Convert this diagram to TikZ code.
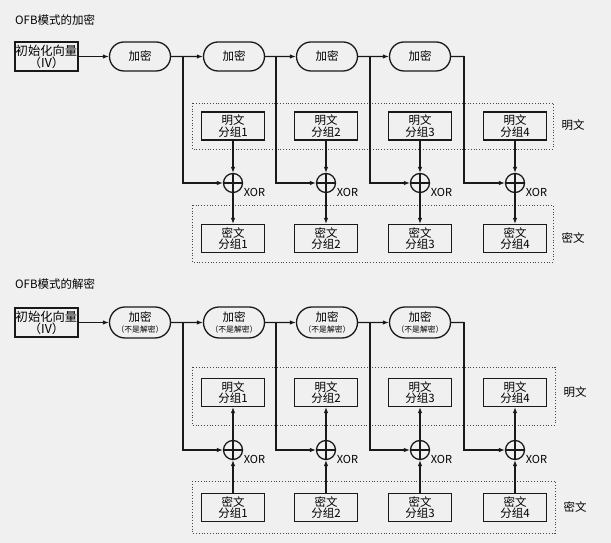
\documentclass[tikz,border=0pt]{standalone}
\usepackage{fontspec}
\newfontfamily\cjk{Noto Sans CJK SC}
\usetikzlibrary{arrows.meta,shapes.misc,positioning,calc}
\definecolor{paper}{RGB}{240,240,240}
\definecolor{ink}{RGB}{25,25,25}
\tikzset{
  basebox/.style={rectangle,draw=ink,line width=1.3pt,align=center,inner sep=0pt,font=\cjk\fontsize{11.5}{11.5}\selectfont},
  ivnode/.style={basebox,minimum width=63pt,minimum height=29pt,font=\cjk\fontsize{12.3}{12}\selectfont},
  encnode/.style={basebox,rounded rectangle,minimum width=61pt,minimum height=29pt},
  blknode/.style={basebox,minimum width=63pt,minimum height=28pt},
  xornode/.style={circle,draw=ink,line width=1.3pt,minimum size=19pt,inner sep=0pt,
    path picture={\draw[line width=1.1pt] (path picture bounding box.north) -- (path picture bounding box.south)
      (path picture bounding box.west) -- (path picture bounding box.east);}},
  xorlab/.style={font=\cjk\fontsize{11}{11}\selectfont,inner sep=0pt,xshift=0.5pt,yshift=-9.5pt},
  sidelab/.style={font=\cjk\fontsize{11.5}{12}\selectfont},
  titlelab/.style={font=\cjk\fontsize{11.5}{12}\selectfont,anchor=west,inner sep=0pt},
  grp/.style={draw=ink!80,dotted,line width=0.8pt},
  arr/.style={-{Latex[length=6pt,width=4.5pt]},line width=1.1pt,color=ink},
  ln/.style={line width=1.1pt,color=ink}
}
\begin{document}
\begin{tikzpicture}[x=1pt,y=1pt]
  \fill[paper] (0,0) rectangle (611,543);
  \useasboundingbox (0,0) rectangle (611,543);
  % OFB encryption
  \node[titlelab] (t1) at (15,523) {OFB模式的加密};
  \node[ivnode] (iv1) at (46.5,486.5) {初始化向量\\（IV）};
  \draw[grp] (192,440) rectangle (553,394);
  \draw[grp] (192,338) rectangle (553,281);
  \foreach \i/\ex/\bx/\px in {1/140/183/233, 2/234/276/326, 3/327/370/420, 4/420/464/515} {
    \node[encnode] (e\i) at (\ex,486.5) {加密};
    \coordinate (b\i) at (\bx,486.5);
    \node[blknode] (p\i) at (\px,417) {明文\\分组\i};
    \node[xornode,label={[xorlab]0:XOR}] (x\i) at (\px,360) {};
    \node[blknode] (c\i) at (\px,304.5) {密文\\分组\i};
    \draw[arr] (b\i) |- (x\i);
    \draw[arr] (p\i) -- (x\i);
    \draw[arr] (x\i) -- (c\i);
  }
  \draw[arr] (iv1) -- (e1);
  \draw[arr] (e1) -- (e2);
  \draw[arr] (e2) -- (e3);
  \draw[arr] (e3) -- (e4);
  \draw[ln] (e4) -- (b4);
  \node[sidelab] (lp1) at (573,418) {明文};
  \node[sidelab] (lc1) at (573,305) {密文};
  % OFB decryption
  \node[titlelab] (t2) at (15,259) {OFB模式的解密};
  \node[ivnode] (iv2) at (46.5,220.5) {初始化向量\\（IV）};
  \draw[grp] (192,176) rectangle (555,118);
  \draw[grp] (192,62) rectangle (555,10);
  \foreach \i/\ex/\bx/\px in {1/140/183/233, 2/234/276/326, 3/327/370/420, 4/420/464/515} {
    \node[encnode,minimum height=31pt] (ed\i) at (\ex,220.5) {加密\\{\fontsize{7.8}{9}\selectfont （不是解密）}};
    \coordinate (bd\i) at (\bx,220.5);
    \node[blknode] (pd\i) at (\px,150.5) {明文\\分组\i};
    \node[xornode,label={[xorlab]0:XOR}] (xd\i) at (\px,93) {};
    \node[blknode] (cd\i) at (\px,35.5) {密文\\分组\i};
    \draw[arr] (bd\i) |- (xd\i);
    \draw[arr] (cd\i) -- (xd\i);
    \draw[arr] (xd\i) -- (pd\i);
  }
  \draw[arr] (iv2) -- (ed1);
  \draw[arr] (ed1) -- (ed2);
  \draw[arr] (ed2) -- (ed3);
  \draw[arr] (ed3) -- (ed4);
  \draw[ln] (ed4) -- (bd4);
  \node[sidelab] (lp2) at (575,151) {明文};
  \node[sidelab] (lc2) at (575,36) {密文};
\end{tikzpicture}
\end{document}
